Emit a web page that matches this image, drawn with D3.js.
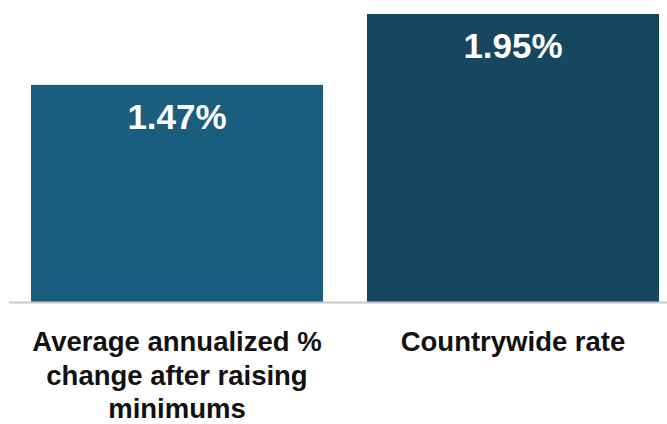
<!DOCTYPE html>
<html lang="en">
<head>
    <meta charset="UTF-8">
    <title>annualized change chart</title>
    <script src="https://d3js.org/d3.v7.min.js"></script>
    <style>
        html, body { margin: 0; padding: 0; background: #ffffff; }
        svg { display: block; }
    </style>
</head>
<body>
    <svg id="chart" width="667" height="424"></svg>
    <script>
        // data
        const categories = [
            ["Average annualized %", "change after raising", "minimums"],
            ["Countrywide rate"]
        ];
        const values = [1.47, 1.95];
        const valueLabels = ["1.47%", "1.95%"];
        const barColors = ["#1a5e7f", "#15475f"];

        const width = 667, height = 424;
        const baseY = 302;
        const svg = d3.select("#chart");

        const keys = categories.map((c, i) => i);

        const x = d3.scaleBand()
            .domain(keys)
            .range([9, 681])
            .paddingInner(0.131)
            .paddingOuter(0.0655);

        const y = d3.scaleLinear()
            .domain([0, 1.95])
            .range([baseY, 14]);

        // bars
        svg.selectAll("rect.bar")
            .data(values)
            .enter().append("rect")
            .attr("class", "bar")
            .attr("x", (d, i) => x(i))
            .attr("y", d => y(d))
            .attr("width", x.bandwidth())
            .attr("height", d => y(0) - y(d))
            .attr("fill", (d, i) => barColors[i]);

        // baseline
        svg.append("line")
            .attr("x1", 9).attr("x2", width)
            .attr("y1", baseY + 0.5).attr("y2", baseY + 0.5)
            .attr("stroke", "#c8c8c8")
            .attr("stroke-width", 2);

        // value labels inside the bars
        svg.selectAll("text.val")
            .data(values)
            .enter().append("text")
            .attr("class", "val")
            .attr("x", (d, i) => x(i) + x.bandwidth() / 2)
            .attr("y", d => y(d) + 44)
            .attr("text-anchor", "middle")
            .attr("font-family", "Liberation Sans, Arial, sans-serif")
            .attr("font-weight", "bold")
            .attr("font-size", 35)
            .attr("fill", "#ffffff")
            .text((d, i) => valueLabels[i]);

        // category labels under the axis
        const cat = svg.selectAll("text.cat")
            .data(categories)
            .enter().append("text")
            .attr("class", "cat")
            .attr("x", (d, i) => x(i) + x.bandwidth() / 2)
            .attr("y", 351)
            .attr("text-anchor", "middle")
            .attr("font-family", "Liberation Sans, Arial, sans-serif")
            .attr("font-weight", "bold")
            .attr("font-size", 27.5)
            .attr("fill", "#111111");

        cat.selectAll("tspan")
            .data(d => d)
            .enter().append("tspan")
            .attr("x", function () { return d3.select(this.parentNode).attr("x"); })
            .attr("dy", (d, i) => i === 0 ? 0 : 33.5)
            .text(d => d);
    </script>
</body>
</html>
